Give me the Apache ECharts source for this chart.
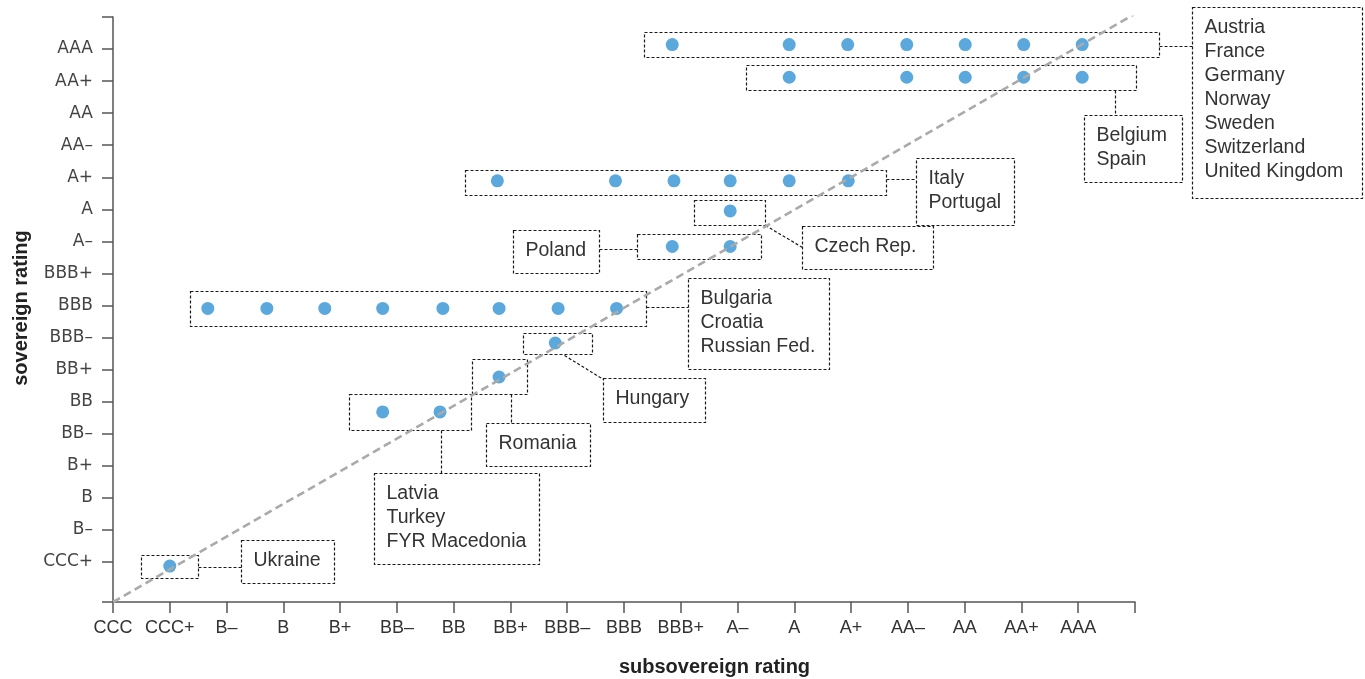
<!DOCTYPE html>
<html>
<head>
<meta charset="utf-8">
<script src="https://cdn.jsdelivr.net/npm/echarts@6/dist/echarts.min.js"></script>
<style>
html,body{margin:0;padding:0;background:#fff;}
#chart{width:1365px;height:679px;}
</style>
</head>
<body>
<div id="chart"></div>
<script>
// Rating scale (tick labels, index = axis value)
const ratingLabels = ['CCC','CCC+','B\u2013','B','B+','BB\u2013','BB','BB+','BBB\u2013','BBB','BBB+','A\u2013','A','A+','AA\u2013','AA','AA+','AAA'];

// Country groups (one row of dots per group)
const groupCountries = [
  ['Austria','France','Germany','Norway','Sweden','Switzerland','United Kingdom'],
  ['Belgium','Spain'],
  ['Italy','Portugal'],
  ['Czech Rep.'],
  ['Poland'],
  ['Bulgaria','Croatia','Russian Fed.'],
  ['Hungary'],
  ['Romania'],
  ['Latvia','Turkey','FYR Macedonia'],
  ['Ukraine']
];
// Sovereign rating of each group (y)
const groupSovereign = [17.14, 16.12, 12.89, 11.95, 10.84, 8.91, 7.83, 6.77, 5.68, 0.87];
// Subsovereign ratings in each group (x)
const groupSubsovereign = [
  [9.85, 11.91, 12.94, 13.98, 15.01, 16.04, 17.07],
  [11.91, 13.98, 15.01, 16.04, 17.07],
  [6.77, 8.85, 9.88, 10.87, 11.91, 12.95],
  [10.87],
  [9.85, 10.87],
  [1.67, 2.71, 3.73, 4.75, 5.81, 6.80, 7.84, 8.87],
  [7.79],
  [6.80],
  [4.75, 5.76],
  [1.00]
];
// 45-degree reference line
const parityX = [0, 18];
const parityY = [-0.25, 18.1];

// Annotation layout (in axis units): group box [x1,x2,yTop,yBottom], label box, connector
const annotationLayout = [
  { box:[9.35,18.42,17.52,16.74],  label:[19.00,21.99,18.31,12.35], link:[[18.42,17.08],[19.00,17.08]] },
  { box:[11.15,18.01,16.49,15.71], label:[17.10,18.82,14.95,12.85], link:[[17.65,15.71],[17.65,14.95]] },
  { box:[6.20,13.61,13.23,12.45],  label:[14.14,15.87,13.61,11.51], link:[[13.61,12.95],[14.14,12.95]] },
  { box:[10.24,11.48,12.30,11.51], label:[12.13,14.44,11.48,10.14], link:[[11.48,11.51],[12.13,10.82]] },
  { box:[9.23,11.41,11.23,10.45],  label:[7.04,8.56,11.36,10.02],   link:[[8.56,10.77],[9.23,10.77]] },
  { box:[1.35,9.38,9.46,8.36],     label:[10.13,12.61,9.86,7.02],   link:[[9.38,8.96],[10.13,8.96]] },
  { box:[7.22,8.44,8.14,7.49],     label:[8.63,10.43,6.75,5.37],    link:[[7.95,7.45],[8.63,6.71]] },
  { box:[6.32,7.29,7.33,6.24],     label:[6.57,8.40,5.34,3.99],     link:[[7.01,6.24],[7.01,5.34]] },
  { box:[4.16,6.30,6.24,5.11],     label:[4.60,7.50,3.77,0.93],     link:[[5.77,5.11],[5.77,3.77]] },
  { box:[0.49,1.50,1.21,0.49],     label:[2.26,3.90,1.68,0.33],     link:[[1.50,0.84],[2.26,0.84]] }
];

const scatterData = [];
groupSubsovereign.forEach((xs, g) => xs.forEach(x => scatterData.push([x, groupSovereign[g]])));

const half = v => Math.round(v) + 0.5;
const dashStyle = { fill: null, stroke: '#1a1a1a', lineWidth: 1.2, lineDash: [3, 2] };

function rectFrom(api, b) {
  const p1 = api.coord([b[0], b[2]]);
  const p2 = api.coord([b[1], b[3]]);
  const x = half(p1[0]), y = half(p1[1]);
  return { x: x, y: y, width: half(p2[0]) - x, height: half(p2[1]) - y };
}

function renderAnnotation(params, api) {
  const a = annotationLayout[params.dataIndex];
  const names = groupCountries[params.dataIndex];
  const boxR = rectFrom(api, a.box);
  const labR = rectFrom(api, a.label);
  const l1 = api.coord(a.link[0]);
  const l2 = api.coord(a.link[1]);
  return {
    type: 'group',
    children: [
      { type: 'rect', shape: boxR, style: dashStyle },
      { type: 'rect', shape: labR, style: dashStyle },
      { type: 'line', shape: { x1: half(l1[0]), y1: half(l1[1]), x2: half(l2[0]), y2: half(l2[1]) }, style: dashStyle },
      { type: 'text', x: labR.x + 12, y: labR.y + 8.5,
        style: { text: names.join('\n'), fill: '#333', font: '19.5px "Liberation Sans", Arial, sans-serif',
                 textAlign: 'left', textVerticalAlign: 'top', lineHeight: 24 } }
    ]
  };
}

const chart = echarts.init(document.getElementById('chart'), null, { renderer: 'canvas' });
const yTicks = [-0.25]; for (let i = 1; i <= 18; i++) yTicks.push(i);
const yLabels = []; for (let i = 1; i <= 17; i++) yLabels.push(i);

chart.setOption({
  animation: false,
  backgroundColor: '#fff',
  grid: { left: 113, right: 230, top: 17, bottom: 77, containLabel: false },
  xAxis: {
    type: 'value', min: 0, max: 18, interval: 1,
    axisLine: { onZero: false, lineStyle: { color: '#555', width: 1.5 } },
    axisTick: { length: 11, lineStyle: { color: '#555', width: 1.5 } },
    axisLabel: { margin: 17, fontSize: 18, fontFamily: '"Liberation Sans", Arial, sans-serif', color: '#333',
                 formatter: v => (ratingLabels[v] !== undefined ? ratingLabels[v] : ''), showMaxLabel: true },
    splitLine: { show: false }
  },
  yAxis: {
    type: 'value', min: -0.25, max: 18,
    axisLine: { show: true, onZero: false, lineStyle: { color: '#555', width: 1.5 } },
    axisTick: { show: true, length: 11, customValues: yTicks, lineStyle: { color: '#555', width: 1.5 } },
    axisLabel: { margin: 20, fontSize: 17, fontFamily: '"DejaVu Sans", sans-serif', color: '#444',
                 customValues: yLabels, formatter: v => ratingLabels[Math.round(v)] || '' },
    splitLine: { show: false }
  },
  graphic: [
    { type: 'text', x: 714.5, y: 667.5,
      style: { text: 'subsovereign rating', fill: '#222', font: 'bold 20px "Liberation Sans", Arial, sans-serif',
               textAlign: 'center', textVerticalAlign: 'middle' } },
    { type: 'text', x: 21.7, y: 308, rotation: Math.PI / 2,
      style: { text: 'sovereign rating', fill: '#222', font: 'bold 20px "Liberation Sans", Arial, sans-serif',
               textAlign: 'center', textVerticalAlign: 'middle' } }
  ],
  series: [
    {
      type: 'custom', coordinateSystem: 'cartesian2d', silent: true, z: 1, clip: false,
      data: annotationLayout.map((_, i) => [i, 0]),
      renderItem: renderAnnotation
    },
    {
      type: 'scatter', z: 2, symbolSize: 13, silent: true,
      itemStyle: { color: '#5ba8dd', opacity: 1 },
      data: scatterData
    },
    {
      type: 'line', z: 3, symbol: 'none', silent: true,
      lineStyle: { color: '#aaaaaa', width: 2.6, type: [8, 4.5] },
      data: parityX.map((x, i) => [x, parityY[i]])
    }
  ]
});
</script>
</body>
</html>
